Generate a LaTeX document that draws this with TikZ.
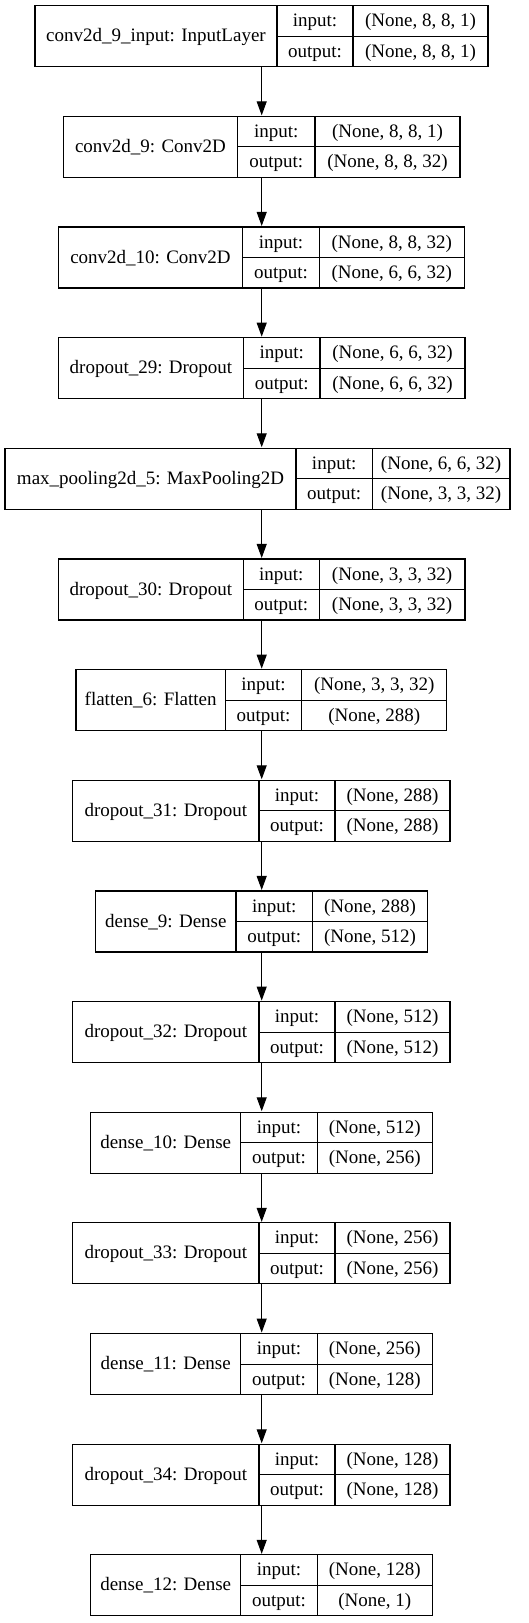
\documentclass[tikz,border=0pt]{standalone}
\usepackage{fontspec}
\setmainfont{Liberation Serif}
\usetikzlibrary{arrows.meta,fit}
\tikzset{
  layerframe/.style={draw, line width=1.1pt, inner sep=0pt, fit=#1},
  cellline/.style={line width=1.1pt},
  celltext/.style={anchor=base, inner sep=0pt, font=\fontsize{19}{22}\selectfont},
  flowarrow/.style={line width=1pt, -{Triangle[length=14pt,width=10pt]}, shorten >=0.5pt}
}
% name, top, left, divider1, divider2, right, label, input, output
\newcommand\layerbox[9]{%
  \coordinate (#1-nw) at (#3,#2);
  \coordinate (#1-se) at (#6,#2+61);
  \node[layerframe={(#1-nw)(#1-se)}] (#1) {};
  \draw[cellline] (#4,#2) -- (#4,#2+61);
  \draw[cellline] (#5,#2) -- (#5,#2+61);
  \draw[cellline] (#4,#2+30.5) -- (#6,#2+30.5);
  \node[celltext] (#1-lab) at ({(#3+#4)/2},#2+36) {#7};
  \node[celltext] (#1-inl) at ({(#4+#5)/2},#2+21) {input:};
  \node[celltext] (#1-outl) at ({(#4+#5)/2},#2+51.5) {output:};
  \node[celltext] (#1-inv) at ({(#5+#6)/2},#2+21) {#8};
  \node[celltext] (#1-outv) at ({(#5+#6)/2},#2+51.5) {#9};
}
\begin{document}
\begin{tikzpicture}[x=1pt,y=-1pt]
\useasboundingbox (0,0) rectangle (529,1623);
\coordinate (ax) at (261.7,0);
\layerbox{l0}{5.7}{35}{277}{353}{488}{conv2d\_9\_input: InputLayer}{(None, 8, 8, 1)}{(None, 8, 8, 1)}
\layerbox{l1}{116.4}{63.3}{237.7}{315}{460}{conv2d\_9: Conv2D}{(None, 8, 8, 1)}{(None, 8, 8, 32)}
\layerbox{l2}{227.0}{58.3}{242.7}{319.3}{464.3}{conv2d\_10: Conv2D}{(None, 8, 8, 32)}{(None, 6, 6, 32)}
\layerbox{l3}{337.7}{58.3}{243.7}{320}{465}{dropout\_29: Dropout}{(None, 6, 6, 32)}{(None, 6, 6, 32)}
\layerbox{l4}{448.3}{5}{296}{372.3}{510}{max\_pooling2d\_5: MaxPooling2D}{(None, 6, 6, 32)}{(None, 3, 3, 32)}
\layerbox{l5}{559.0}{58.3}{243.3}{319.3}{465}{dropout\_30: Dropout}{(None, 3, 3, 32)}{(None, 3, 3, 32)}
\layerbox{l6}{669.7}{76}{225.3}{301.7}{446.7}{flatten\_6: Flatten}{(None, 3, 3, 32)}{(None, 288)}
\layerbox{l7}{780.3}{72.7}{259}{335}{450}{dropout\_31: Dropout}{(None, 288)}{(None, 288)}
\layerbox{l8}{891.0}{95.7}{236}{312.7}{427.3}{dense\_9: Dense}{(None, 288)}{(None, 512)}
\layerbox{l9}{1001.6}{72.7}{259}{335}{450}{dropout\_32: Dropout}{(None, 512)}{(None, 512)}
\layerbox{l10}{1112.3}{90.7}{240.7}{317.3}{432.3}{dense\_10: Dense}{(None, 512)}{(None, 256)}
\layerbox{l11}{1222.9}{72.7}{259}{335}{450}{dropout\_33: Dropout}{(None, 256)}{(None, 256)}
\layerbox{l12}{1333.6}{90.7}{240.7}{317.3}{432.3}{dense\_11: Dense}{(None, 256)}{(None, 128)}
\layerbox{l13}{1444.3}{72.7}{259}{335}{450}{dropout\_34: Dropout}{(None, 128)}{(None, 128)}
\layerbox{l14}{1554.9}{90.7}{240.7}{317.3}{432.3}{dense\_12: Dense}{(None, 128)}{(None, 1)}
\foreach \a/\b in {l0/l1,l1/l2,l2/l3,l3/l4,l4/l5,l5/l6,l6/l7,l7/l8,l8/l9,l9/l10,l10/l11,l11/l12,l12/l13,l13/l14}
  \draw[flowarrow] (\a.south -| ax) -- (\b.north -| ax);
\end{tikzpicture}
\end{document}
